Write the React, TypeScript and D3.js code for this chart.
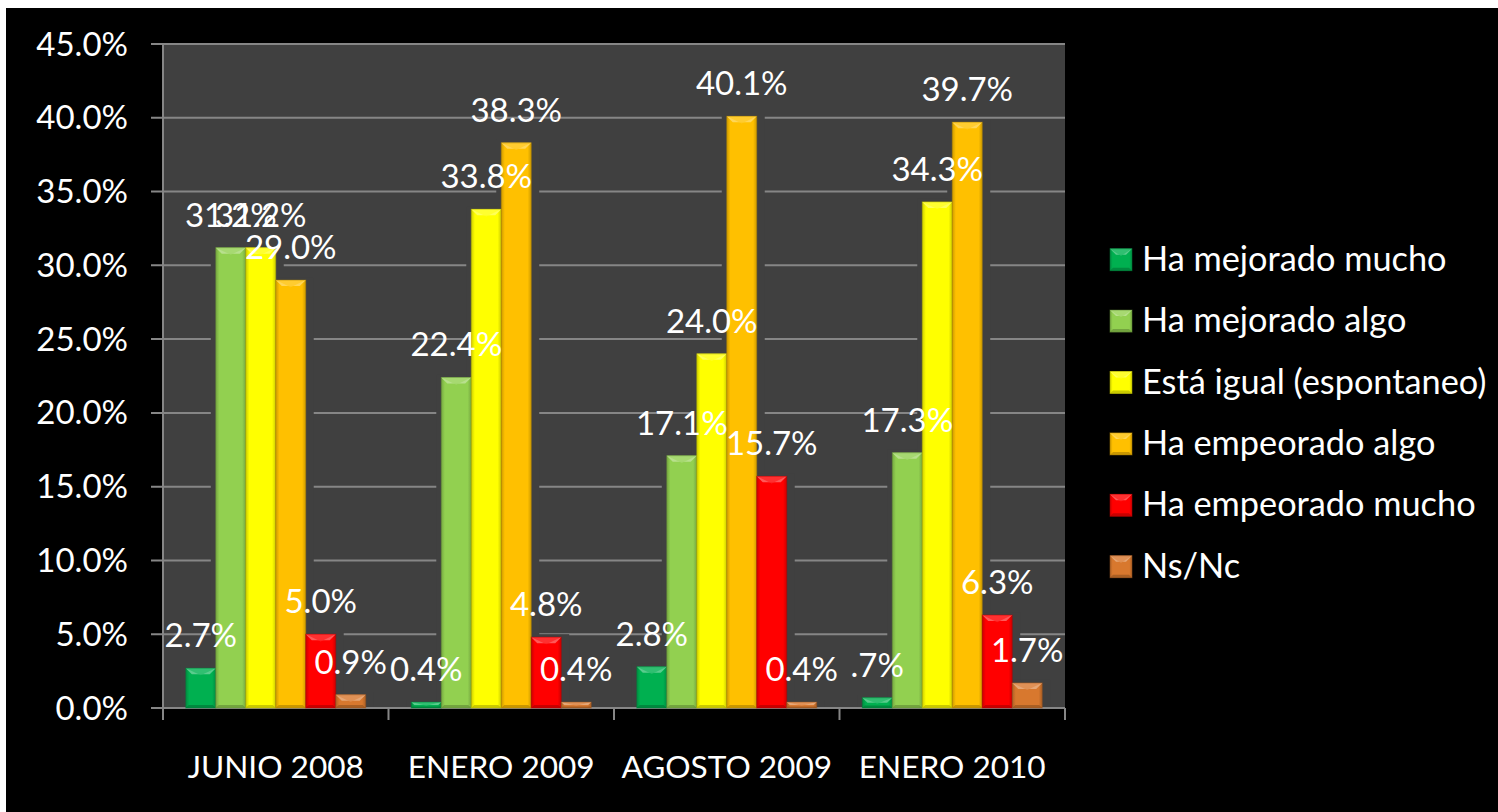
import React from "react";
import * as d3 from "d3";

const categories = ["JUNIO 2008", "ENERO 2009", "AGOSTO 2009", "ENERO 2010"];
const seriesNames = [
  "Ha mejorado mucho",
  "Ha mejorado algo",
  "Está igual (espontaneo)",
  "Ha empeorado algo",
  "Ha empeorado mucho",
  "Ns/Nc",
];
const seriesColors = ["#00B050", "#92D050", "#FFFF00", "#FFC000", "#FF0000", "#D8782E"];
const mejoradoMucho = [2.7, 0.4, 2.8, 0.7];
const mejoradoAlgo = [31.2, 22.4, 17.1, 17.3];
const estaIgual = [31.2, 33.8, 24.0, 34.3];
const empeoradoAlgo = [29.0, 38.3, 40.1, 39.7];
const empeoradoMucho = [5.0, 4.8, 15.7, 6.3];
const nsnc = [0.9, 0.4, 0.4, 1.7];
const seriesValues = [mejoradoMucho, mejoradoAlgo, estaIgual, empeoradoAlgo, empeoradoMucho, nsnc];
// labels as displayed (one is shown as ".7%")
const labelOverrides: Record<string, string> = { "0-3": ".7%" };
const yTicks = [0, 5, 10, 15, 20, 25, 30, 35, 40, 45];

const W = 1498;
const H = 812;
const plotL = 163;
const plotR = 1065;
const plotT = 44;
const plotB = 708;
const FONT = "Lato, 'Open Sans', sans-serif";
const FS = 33;
const FS_LEGEND = 34.3;
const FS_CAT = 31.6;
const BG = "#404040";
const GRID = "#868686";

function Bar({ x, y, w, h, color, id }: { x: number; y: number; w: number; h: number; color: string; id: string }) {
  const c = d3.color(color)!;
  const light = d3.interpolateRgb(color, "#ffffff")(0.35);
  const dark = c.darker(0.6).formatHex();
  const darker = c.darker(1.0).formatHex();
  const b = Math.min(6, h / 2, w / 2);
  return (
    <g>
      <defs>
        <linearGradient id={id} x1="0" x2="1" y1="0" y2="0">
          <stop offset="0" stopColor={dark} />
          <stop offset="0.12" stopColor={color} />
          <stop offset="0.88" stopColor={color} />
          <stop offset="1" stopColor={dark} />
        </linearGradient>
      </defs>
      <rect x={x} y={y} width={w} height={h} fill={`url(#${id})`} />
      {h > 0 && (
        <>
          <polygon
            points={`${x},${y} ${x + w},${y} ${x + w - b},${y + b} ${x + b},${y + b}`}
            fill={light}
          />
          <polygon
            points={`${x},${y} ${x + w / 2},${y + b * 1.2} ${x + w},${y}`}
            fill={d3.interpolateRgb(color, "#ffffff")(0.15)}
            opacity={0.8}
          />
          <polygon
            points={`${x},${y + h} ${x + w},${y + h} ${x + w - b * 0.5},${y + h - b * 0.5} ${x + b * 0.5},${y + h - b * 0.5}`}
            fill={darker}
            opacity={0.7}
          />
          <rect x={x} y={y} width={w} height={h} fill="none" stroke={darker} strokeOpacity={0.5} strokeWidth={1} />
        </>
      )}
    </g>
  );
}

export default function App() {
  const x0 = d3.scaleBand<string>().domain(categories).range([plotL, plotR]).paddingInner(0).paddingOuter(0);
  const x1 = d3.scaleBand<string>().domain(seriesNames).range([0, x0.bandwidth()]).paddingInner(0).paddingOuter(0.76);
  const y = d3.scaleLinear().domain([0, 45]).range([plotB, plotT]);
  const fmt = d3.format(".1f");

  const bars: { key: string; x: number; y: number; w: number; h: number; color: string; label: string }[] = [];
  seriesNames.forEach((s, si) => {
    categories.forEach((c, ci) => {
      const v = seriesValues[si][ci];
      const bx = (x0(c) ?? 0) + (x1(s) ?? 0);
      const by = y(v);
      bars.push({
        key: `${si}-${ci}`,
        x: bx,
        y: by,
        w: x1.bandwidth(),
        h: plotB - by,
        color: seriesColors[si],
        label: labelOverrides[`${si}-${ci}`] ?? fmt(v) + "%",
      });
    });
  });

  const legendY0 = 270.7;
  const legendStep = 61.4;

  return (
    <svg
      width={W}
      height={H}
      style={{ position: "absolute", left: 0, top: 0, display: "block" }}
      fontFamily={FONT}
    >
      <rect x={0} y={0} width={W} height={H} fill="#ffffff" />
      <rect x={6} y={8} width={W - 6} height={H - 8} fill="#000000" />
      <rect x={plotL} y={plotT} width={plotR - plotL} height={plotB - plotT} fill={BG} />
      {/* gridlines */}
      {yTicks.map((t) => (
        <line key={t} x1={plotL - 12} x2={plotR} y1={y(t)} y2={y(t)} stroke={GRID} strokeWidth={2} />
      ))}
      {/* bar shadows hide gridlines */}
      {bars.map((b) => (
        <rect key={"s" + b.key} x={b.x - 5} y={b.y - 3} width={b.w + 13} height={b.h + 2} fill={BG} />
      ))}
      {/* axes */}
      <line x1={plotL} x2={plotL} y1={plotT} y2={plotB} stroke={GRID} strokeWidth={2} />
      <line x1={plotL - 12} x2={plotR} y1={plotB} y2={plotB} stroke={GRID} strokeWidth={2} />
      {categories.concat([""]).map((c, i) => {
        const xx = i < categories.length ? x0(c)! : plotR;
        return <line key={"t" + i} x1={xx} x2={xx} y1={plotB} y2={plotB + 12} stroke={GRID} strokeWidth={2} />;
      })}
      {/* bars */}
      {bars.map((b) => (
        <Bar key={b.key} id={"g" + b.key} x={b.x} y={b.y} w={b.w} h={b.h} color={b.color} />
      ))}
      {/* data labels */}
      {bars.map((b) => (
        <text
          key={"l" + b.key}
          x={b.x + b.w / 2}
          y={b.y - 21}
          fill="#ffffff"
          fontSize={FS}
          textAnchor="middle"
        >
          {b.label}
        </text>
      ))}
      {/* y tick labels */}
      {yTicks.map((t) => (
        <text key={"y" + t} x={128} y={y(t) + 11.5} fill="#ffffff" fontSize={FS} textAnchor="end">
          {fmt(t) + "%"}
        </text>
      ))}
      {/* category labels */}
      {categories.map((c) => (
        <text
          key={"c" + c}
          x={(x0(c) ?? 0) + x0.bandwidth() / 2}
          y={778}
          fill="#ffffff"
          fontSize={FS_CAT}
          textAnchor="middle"
        >
          {c}
        </text>
      ))}
      {/* legend */}
      {seriesNames.map((s, i) => {
        const by = legendY0 + i * legendStep;
        return (
          <g key={"lg" + i}>
            <Bar id={"lgg" + i} x={1110} y={by - 22} w={22} h={22} color={seriesColors[i]} />
            <text x={1142} y={by} fill="#ffffff" fontSize={FS_LEGEND}>
              {s}
            </text>
          </g>
        );
      })}
    </svg>
  );
}
